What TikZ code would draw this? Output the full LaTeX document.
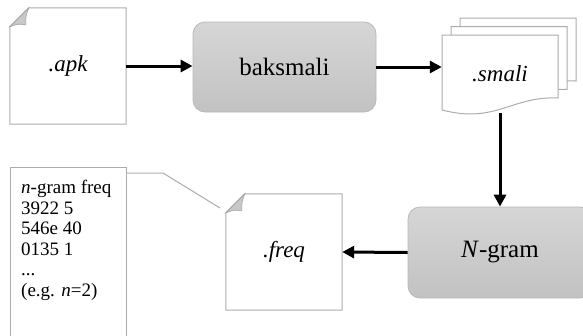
\documentclass[tikz,border=0pt]{standalone}
\usepackage{fontspec}
\setmainfont{Liberation Serif}
\usetikzlibrary{arrows.meta,calc}
\definecolor{docgray}{RGB}{172,172,172}
\definecolor{foldfill}{RGB}{200,200,200}
\definecolor{foldline}{RGB}{165,165,165}
\definecolor{boxtop}{RGB}{214,214,214}
\definecolor{boxbot}{RGB}{194,194,194}
\definecolor{boxline}{RGB}{185,185,185}
\begin{document}
\begin{tikzpicture}[x=1pt,y=-1pt,
  docline/.style={draw=docgray, line width=1pt, fill=white},
  foldflap/.style={fill=foldfill, draw=foldline, line width=0.6pt},
  docnode/.style={minimum width=116pt, minimum height=116pt, inner sep=0pt, font=\fontsize{23}{27}\selectfont\itshape},
  procbox/.style={rounded corners=12pt, draw=boxline, line width=0.8pt, top color=boxtop, bottom color=boxbot, minimum height=90pt, inner sep=0pt, font=\fontsize{25}{30}\selectfont},
  flow/.style={-{Triangle[length=12pt,width=12pt]}, line width=3pt},
  notebox/.style={draw=docgray, line width=1pt, fill=white, minimum width=116pt, minimum height=180pt, inner sep=0pt},
  notetxt/.style={align=left, inner sep=0pt, font=\fontsize{19}{20.5}\selectfont}
]
\useasboundingbox (0,0) rectangle (583,335);
\clip (0,0) rectangle (583,335);

% .apk document
\node[docnode] (apk) at (68,66) {};
\draw[docline] ($(apk.north west)+(0,19)$) -- ($(apk.north west)+(19,0)$) -- (apk.north east) -- (apk.south east) -- (apk.south west) -- cycle;
\draw[foldflap] ($(apk.north west)+(0,19)$) .. controls ($(apk.north west)+(8,16)$) .. ($(apk.north west)+(16,17)$) .. controls ($(apk.north west)+(16,8)$) .. ($(apk.north west)+(19,0)$) -- cycle;
\node[docnode] at (apk.center) {.apk};

% baksmali
\node[procbox, minimum width=183pt] (bak) at (284.5,67) {baksmali};

% .smali multi document
\foreach \dx/\dy in {18/-17, 9/-8.5, 0/0} {
  \begin{scope}[shift={(\dx,\dy)}]
    \draw[docline] (442,35) -- (558,35) -- (558,98) .. controls (511,96) and (496,124) .. (442,110) -- cycle;
  \end{scope}
}
\node[minimum width=116pt, minimum height=78pt, inner sep=0pt, font=\fontsize{23}{27}\selectfont\itshape] (smali) at (500,74) {.smali};

% N-gram
\node[procbox, minimum width=184pt, minimum height=91pt] (ngr) at (500,252.5) {\textit{N}-gram};

% .freq document
\node[docnode] (freq) at (284,252) {};
\draw[docline] ($(freq.north west)+(0,19)$) -- ($(freq.north west)+(19,0)$) -- (freq.north east) -- (freq.south east) -- (freq.south west) -- cycle;
\draw[foldflap] ($(freq.north west)+(0,19)$) .. controls ($(freq.north west)+(8,16)$) .. ($(freq.north west)+(16,17)$) .. controls ($(freq.north west)+(16,8)$) .. ($(freq.north west)+(19,0)$) -- cycle;
\node[docnode] at (freq.center) {.freq};

% callout
\node[notebox, anchor=north west] (note) at (10,167) {};
\node[notetxt, anchor=north west] (notetext) at (21,180) {\textit{n}-gram freq\\3922 5\\546e 40\\0135 1\\...\\(e.g. \textit{n}=2)};
\coordinate (calltip) at (220,208);
\draw[draw=docgray, line width=1pt] ($(note.north east)+(0,6)$) -- (163,173) -- (calltip);

% flow arrows
\draw[flow] (apk.east) -- (apk.east -| bak.west);
\draw[flow] (bak.east) -- (bak.east -| smali.west);
\draw[flow] (smali.south) -- (ngr.north);
\draw[flow] (ngr.west) -- (freq.east);
\end{tikzpicture}
\end{document}
